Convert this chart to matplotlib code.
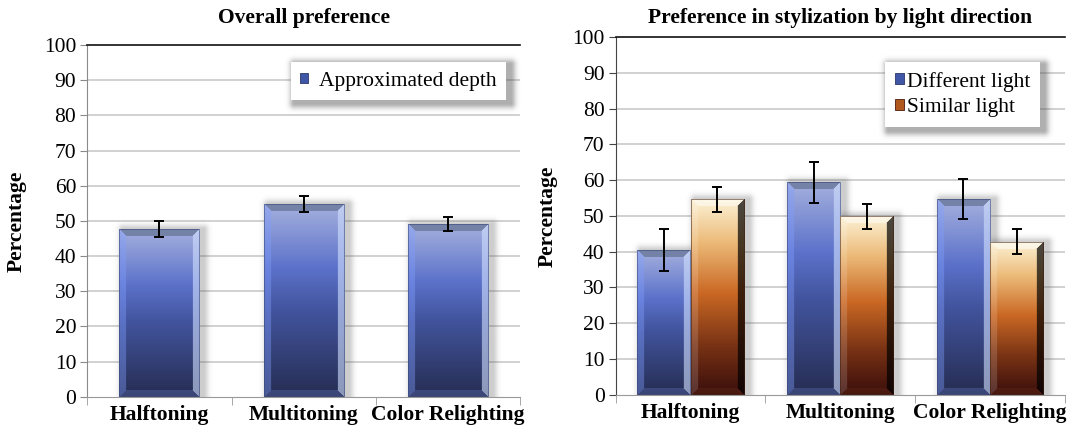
import numpy as np
import matplotlib
matplotlib.use("Agg")
import matplotlib.pyplot as plt
from matplotlib.patches import Patch

# ---------------- data ----------------
categories = ["Halftoning", "Multitoning", "Color Relighting"]

overall_values = [47.7, 54.8, 49.0]
overall_errors = [2.3, 2.3, 2.0]
overall_label = "Approximated depth"

different_values = [40.5, 59.4, 54.7]
different_errors = [5.8, 5.7, 5.7]
similar_values = [54.6, 49.9, 42.8]
similar_errors = [3.5, 3.5, 3.5]
series_labels = ["Different light", "Similar light"]

yticks = list(range(0, 101, 10))

# ---------------- style ----------------
W, H, DPI = 1067, 430, 100
SERIF = ["Liberation Serif", "DejaVu Serif"]
plt.rcParams["font.family"] = SERIF

BLUE_STOPS = [(0.0, (165, 176, 222)), (0.33, (92, 114, 202)), (0.55, (66, 84, 158)),
              (1.0, (38, 45, 82))]
ORANGE_STOPS = [(0.0, (252, 242, 214)), (0.22, (236, 186, 120)), (0.48, (202, 104, 36)),
                (0.75, (120, 50, 20)), (1.0, (58, 14, 12))]


def grad(stops, t):
    pos = np.array([s[0] for s in stops])
    cols = np.array([s[1] for s in stops], dtype=float) / 255.0
    return np.stack([np.interp(t, pos, cols[:, k]) for k in range(3)], axis=-1)


def bar_image(wpx, hpx, stops, kind):
    rows, cols = max(int(round(hpx)), 2), max(int(round(wpx)), 2)
    t = np.linspace(0, 1, rows)
    face = grad(stops, t)[:, None, :] * np.ones((1, cols, 1))
    img = face.copy()
    jj, ii = np.meshgrid(np.arange(cols), np.arange(rows))
    d = np.stack([jj, cols - 1 - jj, ii, rows - 1 - ii], axis=0)  # left,right,top,bottom
    b = 7
    region = np.argmin(d, axis=0)
    mind = np.min(d, axis=0)
    inb = mind < b
    white = np.ones_like(face)
    if kind == "blue":
        left = face * 0.6 + np.array([0.5, 0.62, 1.0]) * 0.4
        right = face * 0.4 + np.array([0.82, 0.88, 1.0]) * 0.6
        top = np.ones_like(face) * np.array([0.46, 0.51, 0.66])
        bottom = face * 0.7 + np.array([0.42, 0.5, 0.8]) * 0.3
        edge = np.array([0.22, 0.27, 0.45])
    else:
        left = face * 0.85 + white * 0.15
        right = face * 0.3
        top = face * 0.55 + white * 0.45
        bottom = face * 0.8 + np.array([0.5, 0.25, 0.12]) * 0.2
        edge = np.array([0.25, 0.12, 0.06])
    for r, arr in enumerate([left, right, top, bottom]):
        m = inb & (region == r)
        img[m] = arr[m]
    e = mind < 1
    img[e] = img[e] * 0.45 + edge * 0.55
    return np.clip(img, 0, 1)


def add_bars(ax, xs, vals, errs, width, stops, kind, pxx, pxy):
    bars = ax.bar(xs, vals, width, color="none", edgecolor="none", zorder=2)
    for p in bars:
        x0, w, h = p.get_x(), p.get_width(), p.get_height()
        wpx, hpx = w * pxx, h * pxy
        # soft shadow
        pad = 14
        sx0, sx1 = x0 - pad / pxx, x0 + w + pad / pxx
        sy0, sy1 = 0, h + pad / pxy
        nx, ny = int(wpx + 2 * pad), int(hpx + pad)
        gx = np.linspace(sx0, sx1, nx) * pxx
        gy = np.linspace(sy1, sy0, ny) * pxy
        GX, GY = np.meshgrid(gx, gy)
        rx0, rx1 = (x0) * pxx + 4, (x0 + w) * pxx + 4
        ry1 = h * pxy
        dx = np.maximum(np.maximum(rx0 - GX, GX - rx1), 0)
        dy = np.maximum(GY - ry1, 0)
        dist = np.hypot(dx, dy)
        alpha = 0.3 * np.exp(-(dist / 5.0) ** 2)
        sh = np.zeros((ny, nx, 4))
        sh[..., :3] = 0.35
        sh[..., 3] = alpha
        ax.imshow(sh, extent=[sx0, sx1, sy0, sy1], aspect="auto", zorder=1.5,
                  interpolation="bilinear")
        img = bar_image(wpx, hpx, stops, kind)
        ax.imshow(img, extent=[x0, x0 + w, 0, h], aspect="auto", zorder=2,
                  interpolation="bilinear")
    ax.errorbar(xs, vals, yerr=errs, fmt="none", ecolor="black", elinewidth=1.4,
                capsize=3.3, capthick=1.4, zorder=4)


def style_axes(ax, spine_col):
    ax.set_xlim(-0.5, 2.5)
    ax.set_ylim(0, 100)
    ax.set_yticks(yticks)
    ax.set_yticklabels([str(v) for v in yticks], fontsize=15.5)
    for y in yticks[1:-1]:
        ax.axhline(y, color="#c9c9c9", lw=1.2, zorder=0.5)
    ax.spines["right"].set_visible(False)
    ax.spines["top"].set_color("#111111")
    ax.spines["top"].set_linewidth(1.2)
    ax.spines["left"].set_color(spine_col)
    ax.spines["bottom"].set_color("#999999")
    ax.tick_params(axis="y", direction="out", length=5, color=spine_col, pad=3)
    ax.set_xticks([0, 1, 2])
    ax.set_xticklabels(categories, fontsize=15.5, fontweight="bold")
    ax.tick_params(axis="x", length=0, pad=6)
    ax.set_xticks([-0.5, 0.5, 1.5, 2.5], minor=True)
    ax.tick_params(axis="x", which="minor", direction="out", length=6, color="#999999")
    ax.set_ylabel("Percentage", fontsize=15.5, fontweight="bold")


def soft_legend_shadow(fig, ax, leg):
    fig.canvas.draw()
    bb = leg.get_frame().get_window_extent()
    pad = 14
    nx, ny = int(bb.width + 2 * pad), int(bb.height + 2 * pad)
    gx = np.arange(nx) + bb.x0 - pad
    gy = np.arange(ny)[::-1] + bb.y0 - pad
    GX, GY = np.meshgrid(gx, gy)
    rx0, rx1 = bb.x0 + 3, bb.x1 + 3
    ry0, ry1 = bb.y0 - 4, bb.y1 - 4
    dx = np.maximum(np.maximum(rx0 - GX, GX - rx1), 0)
    dy = np.maximum(np.maximum(ry0 - GY, GY - ry1), 0)
    dist = np.hypot(dx, dy)
    sh = np.zeros((ny, nx, 4))
    sh[..., :3] = 0.3
    sh[..., 3] = 0.45 * np.exp(-(dist / 5.0) ** 2)
    inv = ax.transData.inverted()
    (dx0, dy0) = inv.transform((bb.x0 - pad, bb.y0 - pad))
    (dx1, dy1) = inv.transform((bb.x1 + pad, bb.y1 + pad))
    ax.imshow(sh, extent=[dx0, dx1, dy0, dy1], aspect="auto", zorder=4.5,
              interpolation="bilinear")
    ax.set_xlim(-0.5, 2.5)
    ax.set_ylim(0, 100)


fig = plt.figure(figsize=(W / DPI, H / DPI), dpi=DPI)
fig.patch.set_facecolor("white")

# left panel
axL = fig.add_axes([87.3 / W, 1 - 396.7 / H, (520 - 87.3) / W, (396.7 - 45) / H])
pxxL, pxyL = (520 - 87.3) / 3, (396.7 - 45) / 100
xs = np.arange(len(categories))
add_bars(axL, xs, overall_values, overall_errors, 0.555, BLUE_STOPS, "blue", pxxL, pxyL)
style_axes(axL, "#8a8a8a")
axL.yaxis.set_label_coords(-(87.3 - 27) / (520 - 87.3), 0.5)
fig.text(303.5 / W, 1 - 17.5 / H, "Overall preference", ha="center", va="center",
         fontsize=15.5, fontweight="bold")
legL = axL.legend(handles=[Patch(facecolor="#4057a8", edgecolor="#2a3768", lw=0.6)],
                  labels=[overall_label], loc="upper right",
                  bbox_to_anchor=((506 - 87.3) / (520 - 87.3), (396.7 - 62) / (396.7 - 45)),
                  borderaxespad=0, fontsize=15.5, handlelength=0.35, handleheight=0.35,
                  handletextpad=0.5, frameon=True, fancybox=False, framealpha=1,
                  edgecolor="none", borderpad=0.45)
legL.set_zorder(5)

# right panel
axR = fig.add_axes([615.7 / W, 1 - 394.5 / H, (1065 - 615.7) / W, (394.5 - 37.3) / H])
pxxR, pxyR = (1065 - 615.7) / 3, (394.5 - 37.3) / 100
bw = 0.357
add_bars(axR, xs - bw / 2, different_values, different_errors, bw, BLUE_STOPS, "blue", pxxR, pxyR)
add_bars(axR, xs + bw / 2, similar_values, similar_errors, bw, ORANGE_STOPS, "orange", pxxR, pxyR)
style_axes(axR, "#444444")
axR.yaxis.set_label_coords(-(615.7 - 558) / (1065 - 615.7), 0.5)
fig.text(840 / W, 1 - 17.5 / H, "Preference in stylization by light direction",
         ha="center", va="center", fontsize=15.5, fontweight="bold")
legR = axR.legend(handles=[Patch(facecolor="#4057a8", edgecolor="#2a3768", lw=0.6),
                           Patch(facecolor="#b0581c", edgecolor="#4a1a0a", lw=0.6)],
                  labels=series_labels, loc="upper right",
                  bbox_to_anchor=((1040 - 615.7) / (1065 - 615.7), (394.5 - 62) / (394.5 - 37.3)),
                  borderaxespad=0, fontsize=15.5, handlelength=0.4, handleheight=0.4,
                  handletextpad=0.15, labelspacing=0.3, frameon=True, fancybox=False,
                  framealpha=1, edgecolor="none", borderpad=0.45)
legR.set_zorder(5)

soft_legend_shadow(fig, axL, legL)
soft_legend_shadow(fig, axR, legR)

fig.savefig("out.png", dpi=DPI, facecolor="white")
